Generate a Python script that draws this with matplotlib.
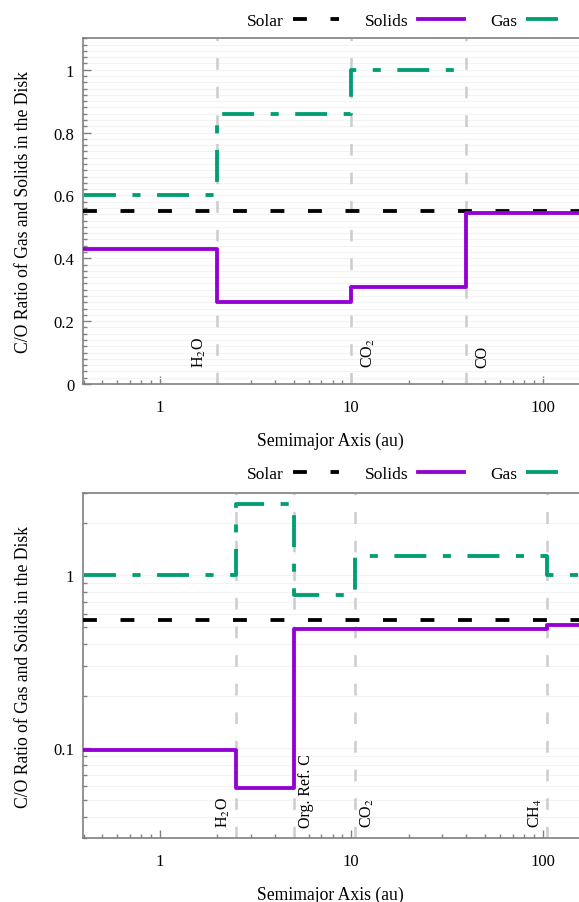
import numpy as np
import matplotlib
matplotlib.use('Agg')
import matplotlib.pyplot as plt
from matplotlib.ticker import MultipleLocator, LogLocator, NullFormatter, FuncFormatter

plt.rcParams['font.family'] = ['Liberation Serif', 'DejaVu Serif']
plt.rcParams['mathtext.fontset'] = 'stix'
plt.rcParams['lines.scale_dashes'] = False

# ---------------- data ----------------
solar_co = 0.55

top_solid_edges = [0.4, 2.0, 10.0, 40.0, 155.0]
top_solid = [0.43, 0.26, 0.31, 0.545]
top_gas_edges = [0.4, 2.0, 10.0, 40.0]
top_gas = [0.60, 0.86, 1.00]
top_lines = [2.0, 10.0, 40.0]
top_line_labels = ['H$_2$O', 'CO$_2$', 'CO']
top_label_dx = [-6.5, 6.0, 5.5]

bot_solid_edges = [0.4, 2.5, 5.0, 105.0, 155.0]
bot_solid = [0.098, 0.059, 0.49, 0.518]
bot_gas_edges = [0.4, 2.5, 5.0, 10.5, 105.0, 155.0]
bot_gas = [1.0, 2.6, 0.765, 1.30, 1.0]
bot_lines = [2.5, 5.0, 10.5, 105.0]
bot_line_labels = ['H$_2$O', 'Org. Ref. C', 'CO$_2$', 'CH$_4$']
bot_label_dx = [-2.5, 3.5, 3.0, -2.0]

x_ticks = [1, 10, 100]

# ---------------- style ----------------
C_SOLID = '#9400D3'
C_GAS = '#009E73'
C_SOLAR = 'black'
C_SNOW = '#cccccc'
C_SPINE = '#808080'
LW = 2.75
GAS_DASH = (0, (23.0, 11.9, 5.8, 11.9))
SOLAR_DASH = (0, (10.0, 17.0))
SNOW_DASH = (0, (8.4, 12.2))

W, H = 579, 903
fig = plt.figure(figsize=(W / 100, H / 100), dpi=100)

left_px = 82.5
ax1 = fig.add_axes([left_px / W, 1 - 385 / H, 1 - left_px / W, (385 - 39.3) / H])
ax2 = fig.add_axes([left_px / W, 1 - 839.3 / H, 1 - left_px / W, (839.3 - 494) / H])


def steps(edges, vals):
    return list(edges), list(vals) + [vals[-1]]


def style_axes(ax):
    ax.set_xscale('log')
    ax.set_xlim(0.395, 155)
    ax.xaxis.set_major_locator(plt.FixedLocator(x_ticks))
    ax.xaxis.set_major_formatter(FuncFormatter(lambda v, p: f'{v:g}'))
    ax.xaxis.set_minor_locator(LogLocator(base=10, subs=np.arange(2, 10)))
    ax.xaxis.set_minor_formatter(NullFormatter())
    ax.tick_params(which='both', direction='in', top=False, right=False,
                   color=C_SPINE, labelsize=12, width=1.0)
    ax.tick_params(which='major', length=6)
    ax.tick_params(which='minor', length=3)
    ax.tick_params(axis='x', which='both', pad=10.5)
    ax.tick_params(axis='y', which='both', pad=6)
    for s in ['left', 'bottom', 'top']:
        ax.spines[s].set_color(C_SPINE)
        ax.spines[s].set_linewidth(1.2)
    ax.spines['right'].set_visible(False)
    ax.grid(True, which='both', axis='y', color='#f3f3f3', lw=0.8)
    ax.set_axisbelow(True)
    ax.set_xlabel('Semimajor Axis (au)', fontsize=12.7)
    ax.xaxis.set_label_coords(0.5, -0.137)
    ax.set_ylabel('C/O Ratio of Gas and Solids in the Disk', fontsize=12.7)
    ax.yaxis.set_label_coords(-0.102, 0.5)


def draw_panel(ax, solid_edges, solid, gas_edges, gas, lines, labels, dxs, yfrac):
    for x, lab, dx in zip(lines, labels, dxs):
        ax.axvline(x, color=C_SNOW, lw=1.8, linestyle=SNOW_DASH, zorder=1)
        ax.annotate(lab, xy=(x, yfrac), xycoords=('data', 'axes fraction'),
                    xytext=(dx, 0), textcoords='offset points', rotation=90,
                    ha='right' if dx < 0 else 'left', va='bottom', fontsize=11.5)
    h_solar = ax.axhline(solar_co, color=C_SOLAR, lw=LW, linestyle=SOLAR_DASH,
                         zorder=3, label='Solar')
    xs, ys = steps(solid_edges, solid)
    h_solid, = ax.step(xs, ys, where='post', color=C_SOLID, lw=LW, zorder=4,
                       label='Solids')
    xg, yg = steps(gas_edges, gas)
    h_gas, = ax.step(xg, yg, where='post', color=C_GAS, lw=LW, linestyle=GAS_DASH,
                     zorder=5, label='Gas')
    return [h_solar, h_solid, h_gas]


# top panel (linear)
style_axes(ax1)
ax1.set_ylim(0, 1.1)
ax1.yaxis.set_major_locator(MultipleLocator(0.2))
ax1.yaxis.set_minor_locator(MultipleLocator(0.02))
ax1.yaxis.set_major_formatter(FuncFormatter(lambda v, p: f'{v:g}'))
hs1 = draw_panel(ax1, top_solid_edges, top_solid, top_gas_edges, top_gas,
                 top_lines, top_line_labels, top_label_dx, 0.048)

# bottom panel (log)
style_axes(ax2)
ax2.set_yscale('log')
ax2.set_ylim(0.03, 3.0)
ax2.yaxis.set_major_locator(LogLocator(base=10))
ax2.yaxis.set_major_formatter(FuncFormatter(lambda v, p: f'{v:g}'))
ax2.yaxis.set_minor_locator(LogLocator(base=10, subs=np.arange(2, 10)))
ax2.yaxis.set_minor_formatter(NullFormatter())
hs2 = draw_panel(ax2, bot_solid_edges, bot_solid, bot_gas_edges, bot_gas,
                 bot_lines, bot_line_labels, bot_label_dx, 0.034)

for ax, hs, ypx in [(ax1, hs1, 21.7), (ax2, hs2, 475.0)]:
    ax.legend(handles=hs, ncol=3, markerfirst=False, frameon=False,
              fontsize=12.5, handlelength=2.64, handletextpad=0.52,
              columnspacing=1.52, borderpad=0, borderaxespad=0,
              loc='center right', bbox_to_anchor=(572 / W, 1 - ypx / H),
              bbox_transform=fig.transFigure)

fig.savefig('out.png', dpi=100)
